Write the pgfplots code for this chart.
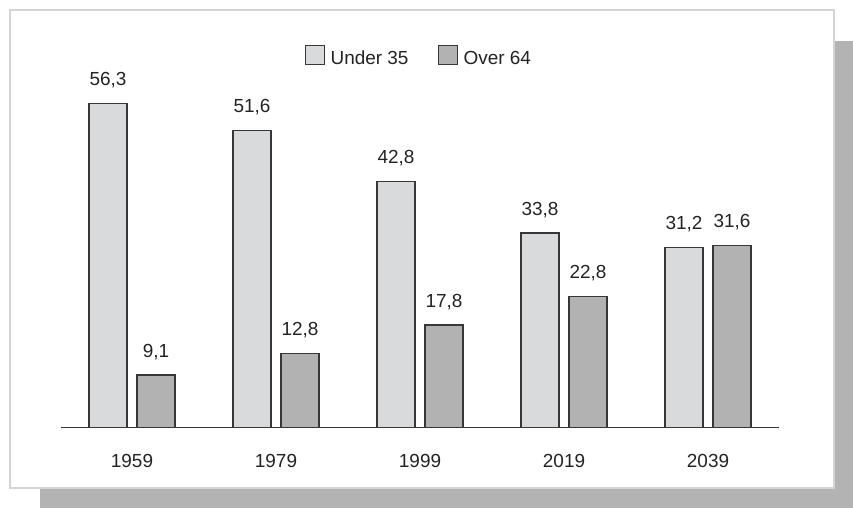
\documentclass[border=0pt]{standalone}
\usepackage{fontspec}
\setmainfont{Liberation Sans}
\usepackage{pgfplots}
\pgfplotsset{compat=1.18}
\definecolor{lightbar}{RGB}{217,218,220}
\definecolor{darkbar}{RGB}{178,178,178}
\definecolor{barline}{RGB}{55,55,55}
\definecolor{shadow}{RGB}{179,179,179}
\definecolor{boxline}{RGB}{212,212,212}
\definecolor{txt}{RGB}{35,35,35}
\begin{document}
\begin{tikzpicture}
\useasboundingbox (0pt,0pt) rectangle (639.75pt,381pt);
\fill[shadow] (30pt,0pt) rectangle (639.75pt,350.25pt);
\draw[boxline, fill=white, line width=0.9pt] (7.5pt,15pt) rectangle (625.5pt,373.5pt);
\begin{axis}[
  at={(45.75pt,60.5pt)}, anchor=south west,
  scale only axis,
  width=538.5pt, height=301.9pt,
  xmin=-0.493, xmax=4.493,
  ymin=0, ymax=70,
  ybar=7.5pt, bar width=28.5pt,
  axis x line*=bottom,
  axis y line=none,
  axis line style={barline, line width=0.8pt},
  xtick={0,1,2,3,4},
  xticklabels={1959,1979,1999,2019,2039},
  xtick style={draw=none},
  xticklabel style={anchor=north, inner sep=0pt, yshift=-15.5pt},
  ytick=\empty,
  clip=false,
  font=\fontsize{14.2}{16}\selectfont,
  every axis label/.append style={text=txt},
  ticklabel style={text=txt},
  nodes near coords,
  /pgf/number format/.cd, use comma, fixed, fixed zerofill, precision=1, assume math mode=true,
  /pgfplots/.cd,
  every node near coord/.append style={text=txt, inner sep=0pt, anchor=south, yshift=11.25pt},
  legend columns=2,
  legend style={draw=none, fill=none, at={(0.498,0.922)}, anchor=center,
    text=txt, font=\fontsize{14.2}{16}\selectfont,
    /tikz/every odd column/.append style={column sep=3pt},
    /tikz/every even column/.append style={column sep=21pt},
    nodes={inner sep=1pt}},
  legend image code/.code={\draw[#1] (0pt,-4.5pt) rectangle (14.5pt,10pt);},
]
\addplot[fill=lightbar, draw=barline, line width=0.8pt] coordinates {(0,56.3) (1,51.6) (2,42.8) (3,33.8) (4,31.2)};
\addplot[fill=darkbar, draw=barline, line width=0.8pt] coordinates {(0,9.1) (1,12.8) (2,17.8) (3,22.8) (4,31.6)};
\legend{Under 35, Over 64}
\end{axis}
\end{tikzpicture}
\end{document}
